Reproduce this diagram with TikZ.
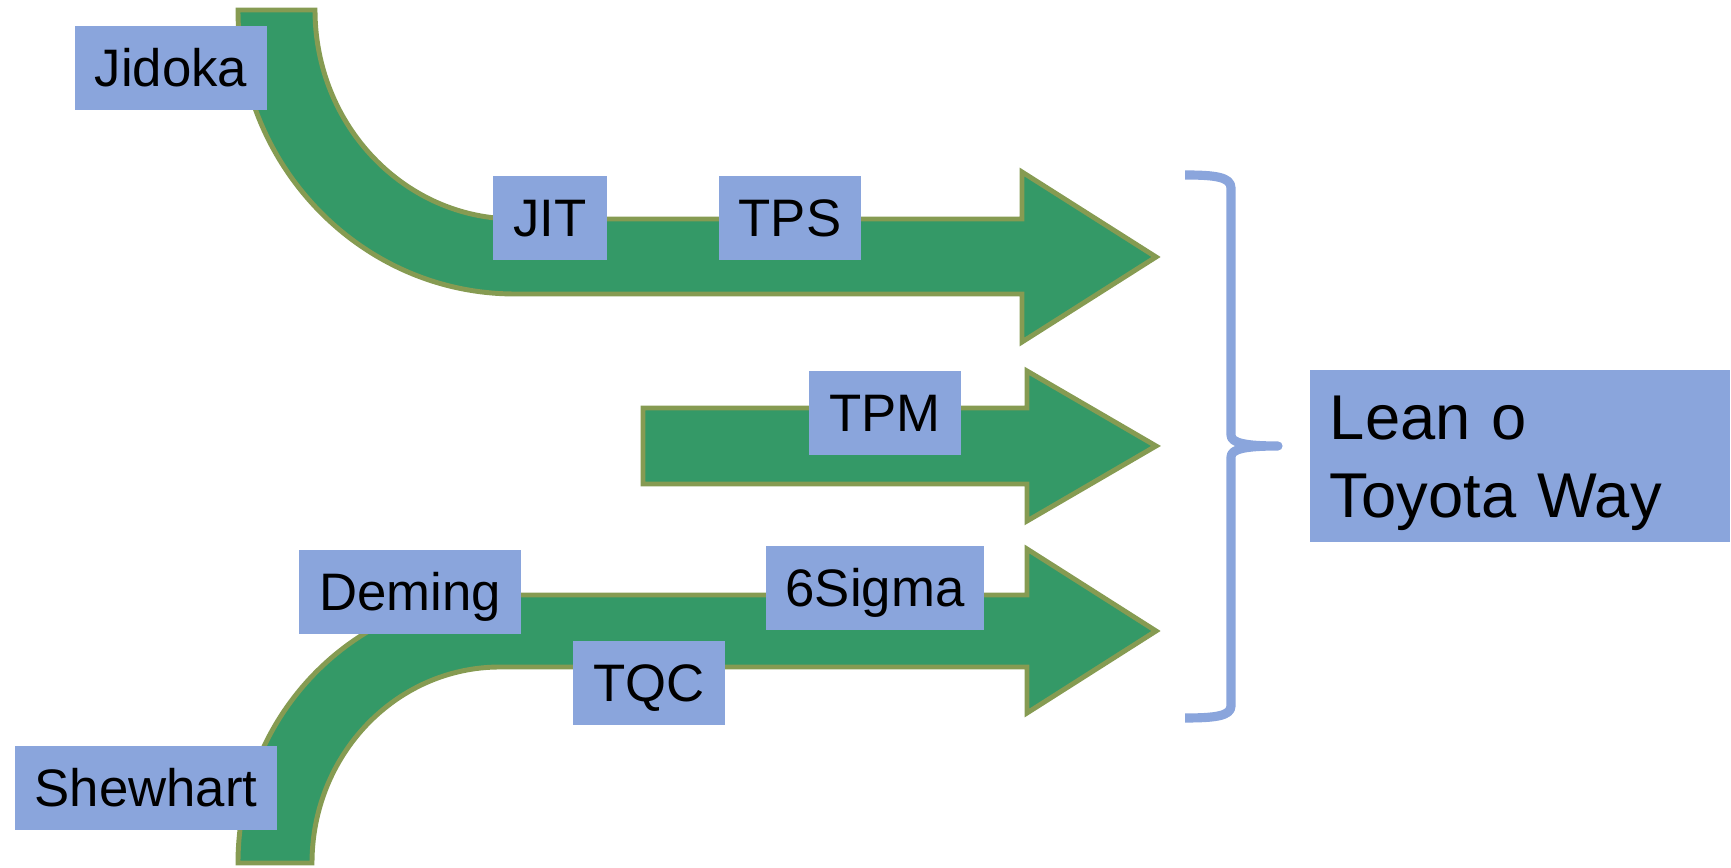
\documentclass[tikz,border=0pt]{standalone}
\usepackage{fontspec}
\setmainfont{Liberation Sans}
\definecolor{flowgreen}{RGB}{52,153,103}
\definecolor{flowedge}{RGB}{134,155,82}
\definecolor{tagblue}{RGB}{138,165,220}

\begin{document}
\begin{tikzpicture}[x=0.01cm, y=-0.01cm,
            tagbox/.style={fill=tagblue, inner xsep=0.2cm, inner ysep=0pt, minimum height=0.84cm, text height=10.8pt, text depth=0pt, font=\fontsize{15}{18}\selectfont},
            flow/.style={fill=flowgreen, draw=flowedge, line width=1.4pt, line join=miter},
            bracket/.style={draw=tagblue, line width=2.6pt, line join=round}
        ]

        \useasboundingbox (0,0) rectangle (1731,868);

        % Flow arrows
        \draw[flow] (238,10) arc[start angle=180, end angle=90, x radius=277, y radius=284]
            -- (1022,294) -- (1022,342) -- (1156,257) -- (1022,172) -- (1022,219) -- (515,219)
            arc[start angle=90, end angle=180, x radius=200, y radius=209] -- cycle;

        \draw[flow] (643,408) -- (1027,408) -- (1027,371) -- (1156,446) -- (1027,521) -- (1027,484) -- (643,484) -- cycle;

        \draw[flow] (238,863) arc[start angle=180, end angle=270, x radius=262, y radius=268]
            -- (1027,595) -- (1027,549) -- (1156,631) -- (1027,713) -- (1027,667) -- (500,667)
            arc[start angle=270, end angle=180, x radius=188, y radius=196] -- cycle;

        % Labels on the arrows
        \node[tagbox] (jidoka) at (171,68) {Jidoka};
        \node[tagbox] (jit) at (550,218) {JIT};
        \node[tagbox] (tps) at (790,218) {TPS};
        \node[tagbox] (tpm) at (885,413) {TPM};
        \node[tagbox] (deming) at (410,592) {Deming};
        \node[tagbox] (sigma) at (875,588) {6Sigma};
        \node[tagbox] (tqc) at (649,683) {TQC};
        \node[tagbox] (shewhart) at (146,788) {Shewhart};

        % Result
        \node[tagbox, text width=3.8cm, align=left, minimum height=1.72cm, text height=12.9pt, text depth=22pt, font=\fontsize{18}{22}\selectfont] (lean) at (1520,456) {Lean o\\Toyota Way};

        \draw[bracket] (1185,175) .. controls (1215,175) and (1231,177) .. (1231,188) -- (1231,435)
            .. controls (1231,443) and (1245,446) .. (1278,446)
            .. controls (1245,446) and (1231,449) .. (1231,457) -- (1231,706)
            .. controls (1231,716) and (1215,718) .. (1185,718);

    \end{tikzpicture}
\end{document}
